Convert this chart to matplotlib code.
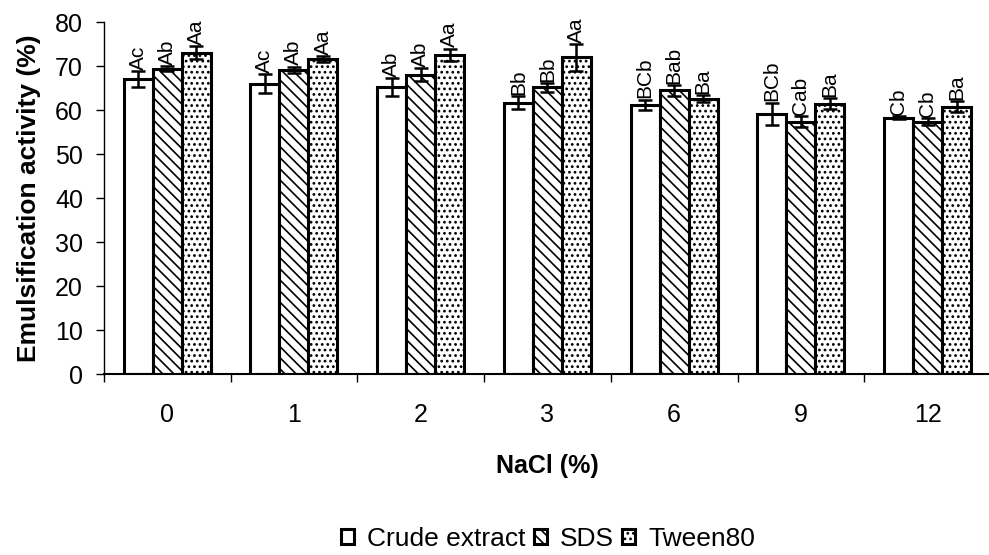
import numpy as np
import matplotlib
matplotlib.use('Agg')
import matplotlib.pyplot as plt
from matplotlib.ticker import FixedLocator

plt.rcParams['font.family'] = ['Liberation Sans', 'DejaVu Sans']
plt.rcParams['hatch.linewidth'] = 1.2

nacl = ['0', '1', '2', '3', '6', '9', '12']
series = ['Crude extract', 'SDS', 'Tween80']

crude = [67.0, 66.0, 65.2, 61.7, 61.2, 59.2, 58.3]
sds = [69.4, 69.2, 68.1, 65.2, 64.5, 57.4, 57.4]
tween = [73.1, 71.6, 72.6, 72.0, 62.6, 61.5, 60.8]

crude_err = [1.8, 2.2, 2.0, 1.5, 1.2, 2.5, 0.3]
sds_err = [0.6, 0.7, 1.5, 1.0, 1.2, 1.3, 0.8]
tween_err = [1.5, 0.7, 1.4, 3.0, 0.8, 1.2, 1.2]

crude_lbl = ['Ac', 'Ac', 'Ab', 'Bb', 'BCb', 'BCb', 'Cb']
sds_lbl = ['Ab', 'Ab', 'Ab', 'Bb', 'Bab', 'Cab', 'Cb']
tween_lbl = ['Aa', 'Aa', 'Aa', 'Aa', 'Ba', 'Ba', 'Ba']

fig = plt.figure(figsize=(9.89, 5.55), dpi=100)
ax = fig.add_axes([0.105, 0.326, 0.897, 0.634])

x = np.arange(len(nacl))
w = 0.229
hatches = ['', '\\\\\\', '...']
groups = [(crude, crude_err, crude_lbl), (sds, sds_err, sds_lbl), (tween, tween_err, tween_lbl)]

for i, (vals, errs, lbls) in enumerate(groups):
    pos = x + (i - 1) * w
    ax.bar(pos, vals, w, color='white', edgecolor='black', linewidth=2.2,
           hatch=hatches[i], label=series[i], zorder=2)
    ax.errorbar(pos, vals, yerr=errs, fmt='none', ecolor='black',
                elinewidth=1.8, capsize=5, capthick=1.8, zorder=3)
    for p, v, e, t in zip(pos, vals, errs, lbls):
        ax.text(p, v + e + 0.3, t, rotation=90, ha='center', va='bottom',
                fontsize=15, zorder=4)

ax.set_xlim(-0.5, len(nacl) - 0.5)
ax.set_ylim(0, 80)
ax.set_yticks(range(0, 81, 10))
ax.set_xticks(x)
ax.set_xticklabels(nacl)
ax.xaxis.set_minor_locator(FixedLocator(np.arange(-0.5, len(nacl), 1.0)))
ax.tick_params(axis='x', which='major', length=0, pad=21, labelsize=18)
ax.tick_params(axis='x', which='minor', length=6, width=1, direction='out')
ax.tick_params(axis='y', length=6, width=1, pad=9, labelsize=18)

for s in ['top', 'right']:
    ax.spines[s].set_visible(False)
ax.spines['left'].set_linewidth(1)
ax.spines['bottom'].set_linewidth(1.5)

ax.set_xlabel('NaCl (%)', fontsize=18, fontweight='bold', labelpad=19)
ax.set_ylabel('Emulsification activity (%)', fontsize=19, fontweight='bold', labelpad=10)

fig.legend(loc='lower center', bbox_to_anchor=(0.554, -0.035), ncol=3, frameon=False,
           fontsize=19, handlelength=0.5, handleheight=0.5, handletextpad=0.5,
           columnspacing=0.3)

fig.savefig('out.png', dpi=100)
